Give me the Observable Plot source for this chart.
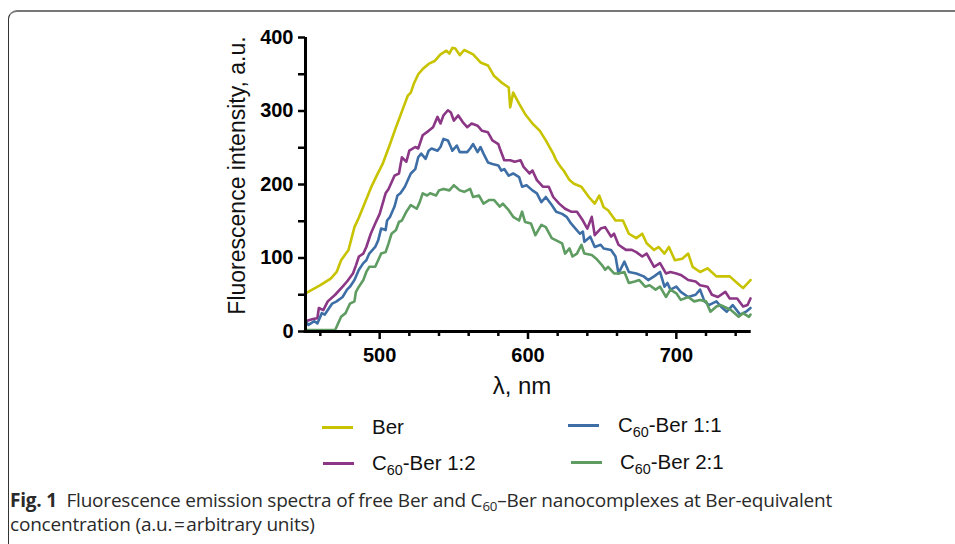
<!DOCTYPE html>
<html><head><meta charset="utf-8">
<script src="https://cdn.jsdelivr.net/npm/d3@7"></script>
<script src="https://cdn.jsdelivr.net/npm/@observablehq/plot@0.6"></script>
<style>
body{margin:0;background:#fff;width:955px;height:544px;overflow:hidden;position:relative;font-family:"Liberation Sans",Arial,sans-serif;}
#frame{position:absolute;left:8px;top:10px;width:1000px;height:600px;border-left:1.5px solid #333;border-top:2px solid #777;border-top-left-radius:9px;box-sizing:border-box;}
#chart{position:absolute;left:0;top:0;}
.leg{position:absolute;font-size:20.5px;line-height:24px;color:#111;white-space:nowrap;}
.leg sub{font-size:0.7em;vertical-align:-0.35em;line-height:0;}
.sw{position:absolute;height:3px;width:31px;}
#cap{position:absolute;left:10px;top:488px;font-family:"Open Sans",sans-serif;font-size:19px;line-height:24px;color:#2a2a2a;white-space:nowrap;letter-spacing:-0.2px;}
#cap sub{font-size:0.7em;vertical-align:-0.3em;line-height:0;}
</style></head><body>
<div id="frame"></div>
<div id="chart"></div>
<div id="legend"></div>
<div id="cap"><b>Fig. 1</b>&nbsp; Fluorescence emission spectra of free Ber and C<sub>60</sub>–Ber nanocomplexes at Ber-equivalent<br>concentration (a.u.&#8202;=&#8202;arbitrary units)</div>
<script>
// ---- data ----
const berX = [450,460,467,471,474,479,483,486,491,494,498,502,507,511,514,519,521,523,526,529,533,537,541,545,547,549,551,554,557,560,563,568,573,577,582,587,588,590,594,598,603,608,612,617,619,622,624,628,631,636,641,645,648,651,654,659,664,668,673,677,680,685,688,692,695,699,704,708,711,716,721,727,731,736,741,745,750];
const berY = [52,63,72,81,97,111,142,155,180,195,212,228,255,278,294,321,325,337,350,357,364,368,377,382,378,386,385,376,383,380,377,366,362,348,339,332,305,325,310,296,283,273,260,242,233,224,219,206,201,197,183,174,185,169,165,151,151,133,127,133,120,111,115,106,115,97,99,106,88,81,86,75,75,75,66,59,70];

const c12X = [450,455,458,459,462,465,470,475,478,482,484,486,489,491,494,497,500,504,506,510,513,515,518,520,524,526,529,533,536,539,541,543,546,548,550,553,556,559,562,566,569,573,576,580,581,584,588,591,595,597,601,603,606,610,614,617,621,625,629,633,637,640,643,645,649,652,656,658,661,666,670,673,677,680,685,689,693,696,700,703,708,713,716,721,724,728,733,736,741,745,748,750];
const c12Y = [14,17,18,32,29,41,50,61,68,79,90,102,106,115,133,147,160,188,194,212,215,237,231,246,251,249,267,273,278,292,283,294,301,298,287,294,285,278,283,280,273,271,260,255,249,233,233,231,233,224,215,219,206,197,197,183,174,167,163,163,151,140,156,131,140,142,129,133,118,111,111,108,102,106,88,93,79,81,79,77,70,68,63,61,50,47,54,45,45,34,36,45];

const c11X = [450,452,456,458,461,463,468,471,475,478,480,483,486,489,491,493,497,499,501,504,505,507,510,512,514,517,519,521,524,526,528,531,533,535,539,541,543,546,548,549,552,554,556,559,561,563,566,568,570,573,576,580,582,584,587,590,594,596,599,603,606,609,612,616,619,623,626,629,632,635,637,638,642,645,649,651,656,659,661,665,668,673,678,681,685,689,692,694,696,700,703,708,713,716,719,722,727,730,734,738,743,747,750];
const c11Y = [14,9,14,11,25,23,38,41,47,57,61,70,84,93,97,106,115,124,140,138,151,156,170,185,188,197,206,215,221,237,242,235,246,249,246,251,262,260,251,246,253,244,244,244,249,255,244,251,242,230,228,226,219,221,212,215,210,197,199,192,188,176,183,172,163,160,156,147,140,133,136,122,129,115,118,113,111,102,79,95,81,79,75,70,75,81,61,66,57,61,54,47,50,57,41,36,41,34,27,36,23,27,32];

const c21X = [450,470,474,477,480,483,484,486,489,491,493,497,499,501,504,506,508,511,513,515,518,521,525,527,529,532,534,538,540,543,547,550,554,557,561,563,567,570,574,577,581,583,587,590,594,596,598,602,605,609,612,616,619,623,625,628,630,633,636,638,643,646,650,652,654,658,661,665,668,672,675,679,682,686,689,693,696,700,703,708,712,716,720,723,727,730,734,737,742,745,749,750];
const c21Y = [2,2,20,25,38,41,54,61,70,81,88,88,97,106,108,120,133,138,149,151,163,172,167,176,188,185,188,185,192,194,192,199,192,190,194,183,185,174,179,179,170,174,165,156,151,163,149,147,131,145,142,127,124,120,106,113,102,106,118,106,104,99,90,84,88,79,79,81,66,68,70,61,63,57,61,47,57,52,43,47,41,43,41,27,34,36,32,29,20,25,20,23];

const seriesNames = ["Ber", "C60-Ber 1:2", "C60-Ber 1:1", "C60-Ber 2:1"];
const seriesColors = ["#c8c300", "#8c3686", "#3e6ea6", "#5f9c62"];
const xMajorTicks = [500, 600, 700];
const xMinorTicks = [460, 480, 520, 540, 560, 580, 620, 640, 660, 680, 720, 740];
const yTicks = [0, 100, 200, 300, 400];
const yMinorTicks = [50, 150, 250, 350];
const xTitle = "λ, nm";
const yTitle = "Fluorescence intensity, a.u.";

const rows = [];
[[berX, berY], [c12X, c12Y], [c11X, c11Y], [c21X, c21Y]].forEach(([xs, ys], i) =>
  xs.forEach((x, j) => rows.push({series: seriesNames[i], nm: x, v: ys[j]})));

const chart = Plot.plot({
  width: 955, height: 400,
  marginLeft: 305, marginRight: 205, marginTop: 37, marginBottom: 69,
  x: {domain: [450, 750]},
  y: {domain: [0, 400]},
  color: {domain: seriesNames, range: seriesColors},
  style: {fontFamily: "Liberation Sans, Arial, sans-serif", color: "#000", background: "transparent", overflow: "visible"},
  marks: [
    Plot.axisY({ticks: yTicks, tickSize: 7, tickPadding: 5, strokeWidth: 2.5, fontSize: 20, fontWeight: "bold", label: null}),
    Plot.axisY({ticks: yMinorTicks, tickSize: 7, strokeWidth: 2.5, text: null, label: null}),
    Plot.axisX({ticks: xMajorTicks, tickSize: 8, tickPadding: 8, strokeWidth: 2.5, fontSize: 20, fontWeight: "bold", label: null}),
    Plot.axisX({ticks: xMinorTicks, tickSize: 5, strokeWidth: 2.5, text: null, label: null}),
    Plot.line(rows, {x: "nm", y: "v", z: "series", stroke: "series", strokeWidth: 2.6}),
    Plot.ruleX([450], {y1: 0, y2: 400, strokeWidth: 3, stroke: "#000"}),
    Plot.ruleY([0], {x1: 449, x2: 750.5, strokeWidth: 3, stroke: "#000"}),
    Plot.text([yTitle], {frameAnchor: "left", textAnchor: "middle", lineAnchor: "middle", dx: -68, dy: -9, rotate: -90, fontSize: 23, fill: "#111"}),
    Plot.text([xTitle], {frameAnchor: "bottom", lineAnchor: "middle", dx: -6, dy: 55, fontSize: 24, fill: "#111"})
  ]
});
document.getElementById("chart").appendChild(chart);

// legend (HTML, below the plot)
const legendLabels = ["Ber", "C<sub>60</sub>-Ber 1:2", "C<sub>60</sub>-Ber 1:1", "C<sub>60</sub>-Ber 2:1"];
const legendPos = [[322, 427, 372], [323, 463, 372], [568, 425, 618], [571, 462, 620]];
const leg = document.getElementById("legend");
legendPos.forEach(([sx, sy, tx], i) => {
  const s = document.createElement("div");
  s.className = "sw"; s.style.left = sx + "px"; s.style.top = (sy - 1.5) + "px"; s.style.background = seriesColors[i];
  leg.appendChild(s);
  const t = document.createElement("div");
  t.className = "leg"; t.style.left = tx + "px"; t.style.top = (sy - 12) + "px"; t.innerHTML = legendLabels[i];
  leg.appendChild(t);
});
</script>
</body></html>
